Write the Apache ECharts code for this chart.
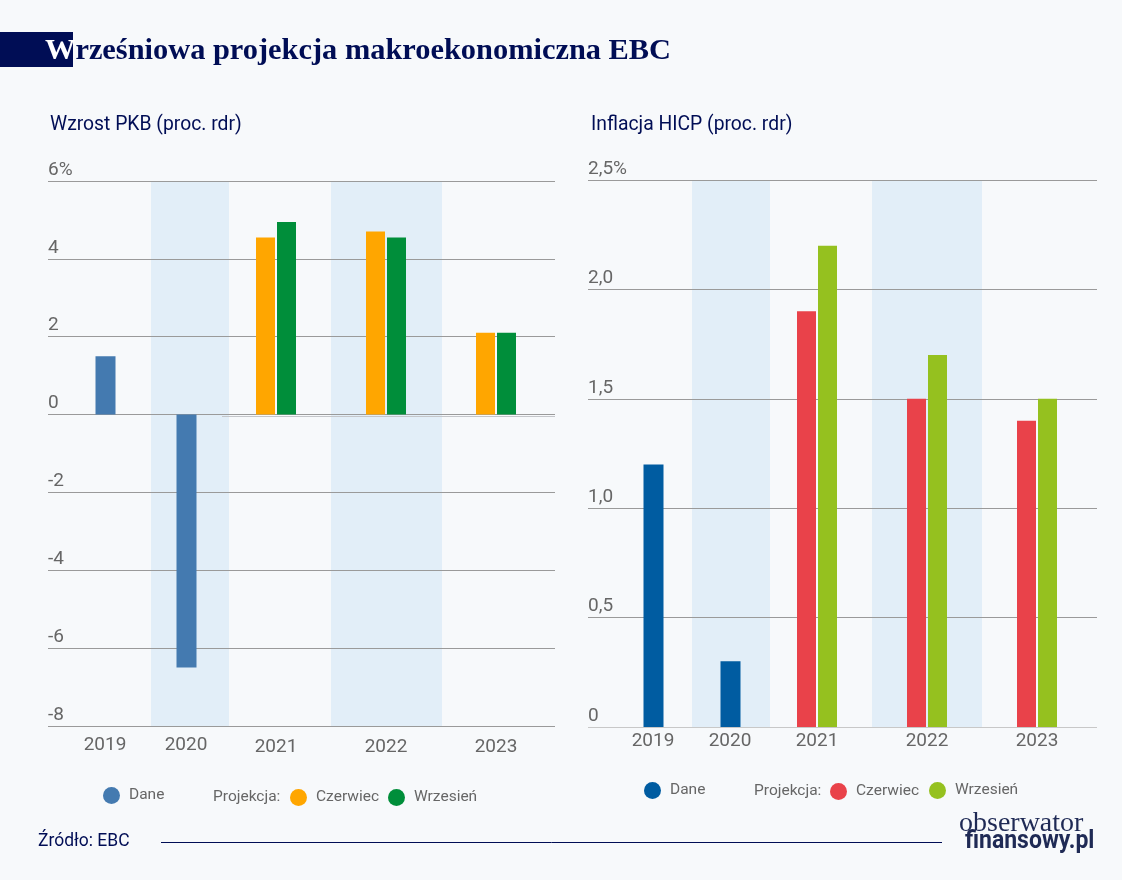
<!DOCTYPE html>
<html>
<head>
<meta charset="utf-8">
<title>Wrześniowa projekcja makroekonomiczna EBC</title>
<script src="https://cdn.jsdelivr.net/npm/echarts@6/dist/echarts.min.js"></script>
<style>
  html, body { margin: 0; padding: 0; background: #f7f9fb; }
  #main { width: 1122px; height: 880px; }
</style>
</head>
<body>
<div id="main"></div>
<script>
// dane
var years = ['2019', '2020', '2021', '2022', '2023'];
var pkbDane = [1.5, -6.5, null, null, null];
var pkbCzerwiec = [null, null, 4.55, 4.7, 2.1];
var pkbWrzesien = [null, null, 4.95, 4.55, 2.1];
var hicpDane = [1.2, 0.3, null, null, null];
var hicpCzerwiec = [null, null, 1.9, 1.5, 1.4];
var hicpWrzesien = [null, null, 2.2, 1.7, 1.5];

// uklad: os X liczona w pikselach strony, bo lata nie sa rozlozone rowno
var pkbYearX = [105, 186, 276, 386, 496];
var hicpYearX = [653, 730, 817, 927, 1037];
var pkbBands = [[151, 229], [331, 442]];
var hicpBands = [[692, 770], [872, 982]];

var navy = '#000d55';
var grey = '#666666';

function points(values, xs, shift) {
  var out = [];
  values.forEach(function (v, i) {
    if (v !== null) out.push([xs[i] + shift, v]);
  });
  return out;
}

function bars(name, values, xs, shift, color, idx, extra) {
  return Object.assign({
    name: name,
    type: 'bar',
    xAxisIndex: idx,
    yAxisIndex: idx,
    barWidth: shift === 0 ? 20 : 19,
    barGap: '-100%',
    z: 3,
    silent: true,
    itemStyle: { color: color },
    data: points(values, xs, shift)
  }, extra || {});
}

function bandArea(bands) {
  return {
    silent: true,
    z: 1,
    itemStyle: { color: '#e2eef8' },
    data: bands.map(function (b) { return [{ xAxis: b[0] }, { xAxis: b[1] }]; })
  };
}

function legendItem(name, color, left, top) {
  return {
    left: left,
    top: top,
    orient: 'horizontal',
    selectedMode: false,
    icon: 'circle',
    itemWidth: 17,
    itemHeight: 17,
    itemGap: 0,
    padding: 0,
    textStyle: { color: grey, fontFamily: 'Roboto', fontSize: 15.5, padding: [0, 0, 2, 4] },
    data: [{ name: name, itemStyle: { color: color } }]
  };
}

function xAxis(idx, xs, left, right, margin, lowered) {
  return {
    type: 'value',
    gridIndex: idx,
    min: left,
    max: right,
    axisLine: { show: false },
    axisTick: { show: false },
    splitLine: { show: false },
    axisLabel: {
      customValues: xs,
      margin: margin,
      color: grey,
      fontFamily: 'Roboto',
      fontSize: 19,
      formatter: function (v) {
        var i = xs.indexOf(v);
        return i >= lowered ? '{low|' + years[i] + '}' : years[i];
      },
      rich: { low: { color: grey, fontFamily: 'Roboto', fontSize: 19, padding: [2, 0, 0, 0] } }
    }
  };
}

function yAxis(idx, min, max, step, unitAt, lineColors) {
  return {
    type: 'value',
    gridIndex: idx,
    min: min,
    max: max,
    interval: step,
    z: 2,
    axisLine: { show: false },
    axisTick: { show: false },
    splitLine: { show: true, lineStyle: { color: lineColors, width: 1 } },
    axisLabel: {
      inside: true,
      margin: 0,
      align: 'left',
      verticalAlign: 'bottom',
      color: grey,
      fontFamily: 'Roboto',
      fontSize: 19,
      lineHeight: 22,
      formatter: function (v) {
        var s = step < 1 ? (v === 0 ? '0' : v.toFixed(1).replace('.', ',')) : String(v);
        return v === unitAt ? s + '%' : s;
      }
    }
  };
}

function label(text, x, y, size, color, family, weight, squeeze) {
  return {
    type: 'text',
    x: x,
    y: y,
    z: 5,
    scaleX: squeeze || 1,
    style: {
      text: text,
      fill: color,
      font: (weight || 'normal') + ' ' + size + 'px ' + family,
      verticalAlign: 'middle'
    }
  };
}

var option = {
  backgroundColor: '#f7f9fb',
  animation: false,
  title: {
    left: 45,
    top: 36,
    padding: 0,
    text: '{w|W}{r|rześniowa projekcja makroekonomiczna EBC}',
    textStyle: {
      rich: {
        w: { color: '#ffffff', fontFamily: '"Liberation Serif"', fontWeight: 'bold', fontSize: 30.4 },
        r: { color: navy, fontFamily: '"Liberation Serif"', fontWeight: 'bold', fontSize: 30.4 }
      }
    }
  },
  grid: [
    { left: 48, right: 1122 - 555, top: 181, bottom: 880 - 726 },
    { left: 588, right: 1122 - 1097, top: 180, bottom: 880 - 727 }
  ],
  xAxis: [
    xAxis(0, pkbYearX, 48, 555, 10, 2),
    xAxis(1, hicpYearX, 588, 1097, 5, 5)
  ],
  yAxis: [
    yAxis(0, -8, 6, 2, 6, '#9a9a9a'),
    yAxis(1, 0, 2.5, 0.5, 2.5, ['#c8c8c8', '#9a9a9a', '#9a9a9a', '#9a9a9a', '#9a9a9a', '#9a9a9a'])
  ],
  legend: [
    legendItem('Dane', '#447ab0', 103, 787),
    legendItem('Czerwiec', '#ffa600', 290, 789),
    legendItem('Wrzesień', '#008e3a', 388, 789),
    legendItem('Dane', '#005ca1', 644, 782),
    legendItem('Czerwiec', '#e9424a', 830, 783),
    legendItem('Wrzesień', '#95c11f', 929, 782)
  ],
  series: [
    bars('Dane', pkbDane, pkbYearX, 0, '#447ab0', 0, { markArea: bandArea(pkbBands) }),
    bars('Czerwiec', pkbCzerwiec, pkbYearX, -10.5, '#ffa600', 0, {
      // druga, jasniejsza linia tuz pod zerem
      markLine: {
        silent: true,
        symbol: 'none',
        z: 2,
        label: { show: false },
        lineStyle: { color: '#c4c6ca', width: 1, type: 'solid' },
        data: [[{ coord: [222, -0.05] }, { coord: [555, -0.05] }]]
      }
    }),
    bars('Wrzesień', pkbWrzesien, pkbYearX, 10.5, '#008e3a', 0),
    bars('Dane', hicpDane, hicpYearX, 0, '#005ca1', 1, { markArea: bandArea(hicpBands) }),
    bars('Czerwiec', hicpCzerwiec, hicpYearX, -10.5, '#e9424a', 1),
    bars('Wrzesień', hicpWrzesien, hicpYearX, 10.5, '#95c11f', 1)
  ],
  graphic: [
    { type: 'rect', z: -1, shape: { x: 0, y: 32, width: 73, height: 35 }, style: { fill: navy } },
    { type: 'line', z: 1, shape: { x1: 161, y1: 842.5, x2: 942, y2: 842.5 }, style: { stroke: navy, lineWidth: 1 } },
    label('Wzrost PKB (proc. rdr)', 50, 125, 21, navy, 'Roboto', 'normal', 0.92),
    label('Inflacja HICP (proc. rdr)', 591, 125, 21, navy, 'Roboto', 'normal', 0.92),
    label('Projekcja:', 213, 797, 15.5, grey, 'Roboto'),
    label('Projekcja:', 754, 791, 15.5, grey, 'Roboto'),
    label('Źródło: EBC', 38, 841, 19, navy, 'Roboto', 'normal', 0.92),
    label('obserwator', 959, 824, 28, '#1f2a55', '"Liberation Serif"'),
    label('finansowy.pl', 965, 842, 25, '#1f2a55', 'Roboto', 'bold', 0.92)
  ]
};

var chart = echarts.init(document.getElementById('main'));
chart.setOption(option);
</script>
</body>
</html>
